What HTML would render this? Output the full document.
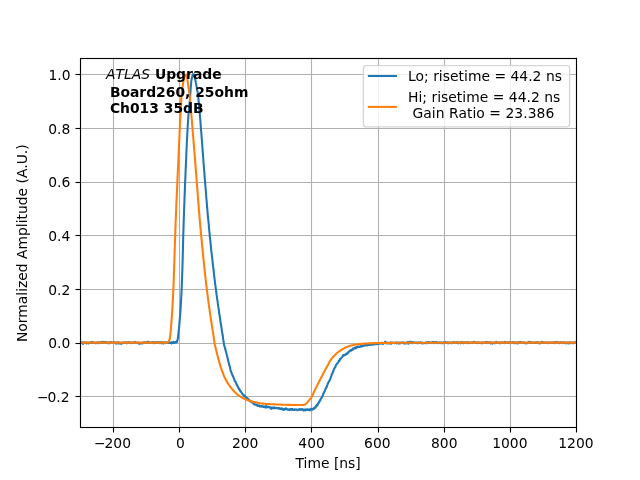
<!DOCTYPE html>
<html lang="en"><head><meta charset="utf-8"><title>Pulse shape</title>
<style>html,body{margin:0;padding:0;background:#fff;overflow:hidden}svg{display:block}text{font-family:'DejaVu Sans','Liberation Sans',sans-serif;font-size:13.889px;fill:#000}</style></head><body>
<svg width="640" height="480" viewBox="0 0 640 480">
<defs><clipPath id="ax"><rect x="80" y="57.6" width="496" height="369.6"/></clipPath></defs>
<rect width="640" height="480" fill="#fff"/>
<g stroke="#b0b0b0" stroke-width="1.111" fill="none">
<path d="M113.5 427.2 V57.6"/>
<path d="M179.5 427.2 V57.6"/>
<path d="M245.5 427.2 V57.6"/>
<path d="M311.5 427.2 V57.6"/>
<path d="M378.5 427.2 V57.6"/>
<path d="M444.5 427.2 V57.6"/>
<path d="M510.5 427.2 V57.6"/>
<path d="M576.5 427.2 V57.6"/>
<path d="M80.0 396.5 H576.0"/>
<path d="M80.0 343.5 H576.0"/>
<path d="M80.0 289.5 H576.0"/>
<path d="M80.0 235.5 H576.0"/>
<path d="M80.0 182.5 H576.0"/>
<path d="M80.0 128.5 H576.0"/>
<path d="M80.0 74.5 H576.0"/>
</g>
<g stroke="#000" stroke-width="1.111" fill="none">
<path d="M113.5 427.5 V432.5"/>
<path d="M179.5 427.5 V432.5"/>
<path d="M245.5 427.5 V432.5"/>
<path d="M311.5 427.5 V432.5"/>
<path d="M378.5 427.5 V432.5"/>
<path d="M444.5 427.5 V432.5"/>
<path d="M510.5 427.5 V432.5"/>
<path d="M576.5 427.5 V432.5"/>
<path d="M80.5 396.5 H75.5"/>
<path d="M80.5 343.5 H75.5"/>
<path d="M80.5 289.5 H75.5"/>
<path d="M80.5 235.5 H75.5"/>
<path d="M80.5 182.5 H75.5"/>
<path d="M80.5 128.5 H75.5"/>
<path d="M80.5 74.5 H75.5"/>
</g>
<text y="448"><tspan x="94.0">−</tspan><tspan x="104.55">200</tspan></text>
<g text-anchor="middle">
<text x="180.40" y="448">0</text>
<text x="245.22" y="448">200</text>
<text x="311.58" y="448">400</text>
<text x="377.34" y="448">600</text>
<text x="444.29" y="448">800</text>
<text x="509.87" y="448">1000</text>
<text x="575.96" y="448">1200</text>
</g>
<text y="402"><tspan x="37.1">−</tspan><tspan x="47.48">0.2</tspan></text>
<g text-anchor="end">
<text x="70.38" y="348">0.0</text>
<text x="70.28" y="295">0.2</text>
<text x="70.33" y="241">0.4</text>
<text x="70.28" y="187">0.6</text>
<text x="70.38" y="134">0.8</text>
<text x="70.48" y="80">1.0</text>
</g>
<text x="328.16" y="468" text-anchor="middle">Time [ns]</text>
<text transform="translate(27.13 243.21) rotate(-90)" text-anchor="middle">Normalized Amplitude (A.U.)</text>
<g clip-path="url(#ax)" fill="none" stroke-width="2.083" stroke-linejoin="round" stroke-linecap="square">
<path stroke="#1f77b4" d="M80.00 343.26 L80.33 341.89 L80.66 342.94 L80.99 342.63 L81.32 342.62 L81.65 342.81 L81.98 342.08 L82.31 342.71 L82.65 342.61 L82.98 343.99 L83.31 343.03 L83.64 342.77 L83.97 342.72 L84.30 342.59 L84.63 342.39 L84.96 342.63 L85.29 342.93 L85.62 342.63 L85.95 343.09 L86.28 342.66 L86.61 342.79 L86.94 343.36 L87.27 342.98 L87.61 342.53 L87.94 342.75 L88.27 343.06 L88.60 343.49 L88.93 342.71 L89.26 342.66 L89.59 342.96 L89.92 342.30 L90.25 342.47 L90.58 343.00 L90.91 342.77 L91.24 342.55 L91.57 342.85 L91.90 341.78 L92.23 343.09 L92.57 342.57 L92.90 342.26 L93.23 342.96 L93.56 343.07 L93.89 342.80 L94.22 342.55 L94.55 342.83 L94.88 342.70 L95.21 343.13 L95.54 342.85 L95.87 342.80 L96.20 343.14 L96.53 342.71 L96.86 342.44 L97.19 342.93 L97.53 342.97 L97.86 342.78 L98.19 342.76 L98.52 343.17 L98.85 342.16 L99.18 343.18 L99.51 343.05 L99.84 342.24 L100.17 342.80 L100.50 342.45 L100.83 343.02 L101.16 341.97 L101.49 342.31 L101.82 342.80 L102.15 342.96 L102.49 341.86 L102.82 342.36 L103.15 342.68 L103.48 342.32 L103.81 342.94 L104.14 342.03 L104.47 342.44 L104.80 342.04 L105.13 342.83 L105.46 342.43 L105.79 342.34 L106.12 341.90 L106.45 343.05 L106.78 342.84 L107.11 342.93 L107.45 343.12 L107.78 342.83 L108.11 342.43 L108.44 342.36 L108.77 342.51 L109.10 343.31 L109.43 342.20 L109.76 342.37 L110.09 342.38 L110.42 342.49 L110.75 342.66 L111.08 342.16 L111.41 341.98 L111.74 342.46 L112.07 342.68 L112.41 342.62 L112.74 342.43 L113.07 342.33 L113.40 342.49 L113.73 342.29 L114.06 342.69 L114.39 342.18 L114.72 342.54 L115.05 342.51 L115.38 342.80 L115.71 342.80 L116.04 343.64 L116.37 343.43 L116.70 343.52 L117.03 342.31 L117.37 342.88 L117.70 342.84 L118.03 343.28 L118.36 342.41 L118.69 343.54 L119.02 343.50 L119.35 342.81 L119.68 342.79 L120.01 342.95 L120.34 343.25 L120.67 343.39 L121.00 343.81 L121.33 343.03 L121.66 343.25 L121.99 342.88 L122.33 343.24 L122.66 342.96 L122.99 343.12 L123.32 342.33 L123.65 342.62 L123.98 342.38 L124.31 343.01 L124.64 342.82 L124.97 342.55 L125.30 342.56 L125.63 342.94 L125.96 342.48 L126.29 342.36 L126.62 342.67 L126.95 343.39 L127.29 342.59 L127.62 342.42 L127.95 342.24 L128.28 342.10 L128.61 342.60 L128.94 342.83 L129.27 342.61 L129.60 342.90 L129.93 342.84 L130.26 342.89 L130.59 342.39 L130.92 342.85 L131.25 343.09 L131.58 342.87 L131.91 342.85 L132.25 342.67 L132.58 342.64 L132.91 342.88 L133.24 342.52 L133.57 342.67 L133.90 342.84 L134.23 342.78 L134.56 343.12 L134.89 341.83 L135.22 342.92 L135.55 342.56 L135.88 342.83 L136.21 342.82 L136.54 342.90 L136.87 342.91 L137.21 342.71 L137.54 343.10 L137.87 342.55 L138.20 342.50 L138.53 342.88 L138.86 342.60 L139.19 343.78 L139.52 343.39 L139.85 343.75 L140.18 342.98 L140.51 342.99 L140.84 343.19 L141.17 343.40 L141.50 342.98 L141.83 343.13 L142.17 342.89 L142.50 343.44 L142.83 342.65 L143.16 343.17 L143.49 342.58 L143.82 342.37 L144.15 342.41 L144.48 342.13 L144.81 342.59 L145.14 342.79 L145.47 342.36 L145.80 342.54 L146.13 342.85 L146.46 342.34 L146.79 342.26 L147.13 342.20 L147.46 341.84 L147.79 342.59 L148.12 341.81 L148.45 342.67 L148.78 342.42 L149.11 342.79 L149.44 342.38 L149.77 342.30 L150.10 342.55 L150.43 342.29 L150.76 342.50 L151.09 342.60 L151.42 342.59 L151.75 342.63 L152.09 342.38 L152.42 342.63 L152.75 341.97 L153.08 342.66 L153.41 342.31 L153.74 343.18 L154.07 343.25 L154.40 342.15 L154.73 342.82 L155.06 342.88 L155.39 342.55 L155.72 343.02 L156.05 342.63 L156.38 342.21 L156.71 342.62 L157.05 342.55 L157.38 342.57 L157.71 342.18 L158.04 342.77 L158.37 342.74 L158.70 342.14 L159.03 342.42 L159.36 342.55 L159.69 342.32 L160.02 343.14 L160.35 342.60 L160.68 342.17 L161.01 342.20 L161.34 342.43 L161.67 343.24 L162.01 342.44 L162.34 342.58 L162.67 342.79 L163.00 342.61 L163.33 343.52 L163.66 342.55 L163.99 343.06 L164.32 342.92 L164.65 343.02 L164.98 342.32 L165.31 343.25 L165.64 342.55 L165.97 342.59 L166.30 342.18 L166.63 342.33 L166.97 342.70 L167.30 342.84 L167.63 342.88 L167.96 343.02 L168.29 342.82 L168.62 342.56 L168.95 342.90 L169.28 342.75 L169.61 342.40 L169.94 342.70 L170.27 343.00 L170.60 342.66 L170.93 342.44 L171.26 342.85 L171.59 343.35 L171.93 342.63 L172.26 342.66 L172.59 342.71 L172.92 342.99 L173.25 341.81 L173.58 342.58 L173.91 342.98 L174.24 342.23 L174.57 342.86 L174.90 342.56 L175.23 342.23 L175.56 342.47 L175.89 341.87 L176.22 342.08 L176.55 342.50 L176.89 341.08 L177.22 341.31 L177.55 339.82 L177.88 338.56 L178.21 335.98 L178.54 332.24 L178.87 329.49 L179.20 326.36 L179.53 322.18 L179.86 318.28 L180.19 314.69 L180.52 309.72 L180.85 304.08 L181.18 298.49 L181.51 292.31 L181.85 284.17 L182.18 275.41 L182.51 264.84 L182.84 252.12 L183.17 239.23 L183.50 227.66 L183.83 217.82 L184.16 208.55 L184.49 199.31 L184.82 190.77 L185.15 182.16 L185.48 174.48 L185.81 166.51 L186.14 158.84 L186.47 150.76 L186.81 143.45 L187.14 136.92 L187.47 130.27 L187.80 124.46 L188.13 119.75 L188.46 114.66 L188.79 111.75 L189.12 107.84 L189.45 104.19 L189.78 101.35 L190.11 97.41 L190.44 91.83 L190.77 87.56 L191.10 83.28 L191.43 79.77 L191.77 78.86 L192.10 76.76 L192.43 76.46 L192.76 74.86 L193.09 74.10 L193.42 74.95 L193.75 74.39 L194.08 75.54 L194.41 76.74 L194.74 77.46 L195.07 78.81 L195.40 80.33 L195.73 82.21 L196.06 83.32 L196.39 85.44 L196.73 87.16 L197.06 89.67 L197.39 90.87 L197.72 92.82 L198.05 95.89 L198.38 98.49 L198.71 101.93 L199.04 105.41 L199.37 109.64 L199.70 113.03 L200.03 117.27 L200.36 120.43 L200.69 125.17 L201.02 130.11 L201.35 133.50 L201.69 137.70 L202.02 141.96 L202.35 146.94 L202.68 151.36 L203.01 155.09 L203.34 160.01 L203.67 164.09 L204.00 168.50 L204.33 172.21 L204.66 177.11 L204.99 180.87 L205.32 184.90 L205.65 188.78 L205.98 193.02 L206.31 197.56 L206.65 201.14 L206.98 205.52 L207.31 209.24 L207.64 213.49 L207.97 216.92 L208.30 220.22 L208.63 223.19 L208.96 227.43 L209.29 230.96 L209.62 234.11 L209.95 237.57 L210.28 240.43 L210.61 243.59 L210.94 246.68 L211.27 250.58 L211.61 253.12 L211.94 255.84 L212.27 258.55 L212.60 261.83 L212.93 265.13 L213.26 267.68 L213.59 270.06 L213.92 273.54 L214.25 276.25 L214.58 279.01 L214.91 281.66 L215.24 284.37 L215.57 286.82 L215.90 289.52 L216.23 291.59 L216.57 294.82 L216.90 296.67 L217.23 299.76 L217.56 300.62 L217.89 303.91 L218.22 306.39 L218.55 308.22 L218.88 310.72 L219.21 312.98 L219.54 315.20 L219.87 317.17 L220.20 319.43 L220.53 322.11 L220.86 324.32 L221.19 326.01 L221.53 328.09 L221.86 330.31 L222.19 332.79 L222.52 334.22 L222.85 336.32 L223.18 339.20 L223.51 341.02 L223.84 343.20 L224.17 345.00 L224.50 346.53 L224.83 347.31 L225.16 349.00 L225.49 349.41 L225.82 351.41 L226.15 352.10 L226.49 353.44 L226.82 355.36 L227.15 356.30 L227.48 357.48 L227.81 358.87 L228.14 360.65 L228.47 361.67 L228.80 362.98 L229.13 364.75 L229.46 365.48 L229.79 366.80 L230.12 368.12 L230.45 369.75 L230.78 370.90 L231.11 372.00 L231.45 372.55 L231.78 373.51 L232.11 374.44 L232.44 374.73 L232.77 375.95 L233.10 376.69 L233.43 377.12 L233.76 378.01 L234.09 378.69 L234.42 380.07 L234.75 381.10 L235.08 381.08 L235.41 381.94 L235.74 381.89 L236.07 383.37 L236.41 384.00 L236.74 384.26 L237.07 385.69 L237.40 385.59 L237.73 386.64 L238.06 387.30 L238.39 387.34 L238.72 388.72 L239.05 389.36 L239.38 389.07 L239.71 389.66 L240.04 390.70 L240.37 391.02 L240.70 391.03 L241.03 391.82 L241.37 392.40 L241.70 392.61 L242.03 393.40 L242.36 393.66 L242.69 394.39 L243.02 394.67 L243.35 394.78 L243.68 395.39 L244.01 395.70 L244.34 395.85 L244.67 395.59 L245.00 396.57 L245.33 396.60 L245.66 397.49 L245.99 397.31 L246.33 397.67 L246.66 397.69 L246.99 398.49 L247.32 398.23 L247.65 398.39 L247.98 398.87 L248.31 398.92 L248.64 399.47 L248.97 399.66 L249.30 400.09 L249.63 401.07 L249.96 400.61 L250.29 401.05 L250.62 401.24 L250.95 401.71 L251.29 401.34 L251.62 401.70 L251.95 402.21 L252.28 402.62 L252.61 402.66 L252.94 402.81 L253.27 403.03 L253.60 403.68 L253.93 404.28 L254.26 404.16 L254.59 404.32 L254.92 404.56 L255.25 404.31 L255.58 404.67 L255.91 404.73 L256.25 404.93 L256.58 404.97 L256.91 404.68 L257.24 405.62 L257.57 405.92 L257.90 405.39 L258.23 405.78 L258.56 405.75 L258.89 406.01 L259.22 405.42 L259.55 406.53 L259.88 405.86 L260.21 406.51 L260.54 406.19 L260.87 406.02 L261.21 406.21 L261.54 406.61 L261.87 406.12 L262.20 406.28 L262.53 406.31 L262.86 406.06 L263.19 407.01 L263.52 406.82 L263.85 406.73 L264.18 407.01 L264.51 406.50 L264.84 406.85 L265.17 407.52 L265.50 407.28 L265.83 406.21 L266.17 405.95 L266.50 406.73 L266.83 407.54 L267.16 406.99 L267.49 406.93 L267.82 407.22 L268.15 406.68 L268.48 407.11 L268.81 407.32 L269.14 407.28 L269.47 407.34 L269.80 407.05 L270.13 407.65 L270.46 407.56 L270.79 408.21 L271.13 408.83 L271.46 407.80 L271.79 407.37 L272.12 407.87 L272.45 408.08 L272.78 408.28 L273.11 408.14 L273.44 407.49 L273.77 407.44 L274.10 408.14 L274.43 407.37 L274.76 408.11 L275.09 407.78 L275.42 408.08 L275.75 408.08 L276.09 408.29 L276.42 408.22 L276.75 407.75 L277.08 408.15 L277.41 408.09 L277.74 408.18 L278.07 408.55 L278.40 408.25 L278.73 408.12 L279.06 408.06 L279.39 408.38 L279.72 408.79 L280.05 408.33 L280.38 409.07 L280.71 408.86 L281.05 408.70 L281.38 408.35 L281.71 408.91 L282.04 409.31 L282.37 408.51 L282.70 409.42 L283.03 409.63 L283.36 409.11 L283.69 409.24 L284.02 409.94 L284.35 409.54 L284.68 408.84 L285.01 408.94 L285.34 408.91 L285.67 408.93 L286.01 408.28 L286.34 409.44 L286.67 408.97 L287.00 409.14 L287.33 409.20 L287.66 409.65 L287.99 409.37 L288.32 409.23 L288.65 409.74 L288.98 409.92 L289.31 409.44 L289.64 410.04 L289.97 409.68 L290.30 409.28 L290.63 409.76 L290.97 409.01 L291.30 409.66 L291.63 409.26 L291.96 409.74 L292.29 409.04 L292.62 409.20 L292.95 409.98 L293.28 409.78 L293.61 409.86 L293.94 409.72 L294.27 410.01 L294.60 409.39 L294.93 409.37 L295.26 409.73 L295.59 409.46 L295.93 409.44 L296.26 409.56 L296.59 409.56 L296.92 409.52 L297.25 410.15 L297.58 409.94 L297.91 410.08 L298.24 409.72 L298.57 409.53 L298.90 409.28 L299.23 409.76 L299.56 409.13 L299.89 409.54 L300.22 409.91 L300.55 410.06 L300.89 409.77 L301.22 409.08 L301.55 409.62 L301.88 409.10 L302.21 409.56 L302.54 409.30 L302.87 409.63 L303.20 410.32 L303.53 409.84 L303.86 410.35 L304.19 409.68 L304.52 409.53 L304.85 410.19 L305.18 410.32 L305.51 409.50 L305.85 409.81 L306.18 409.29 L306.51 409.71 L306.84 410.06 L307.17 409.76 L307.50 409.58 L307.83 409.21 L308.16 409.81 L308.49 410.07 L308.82 409.92 L309.15 409.72 L309.48 409.31 L309.81 410.33 L310.14 409.71 L310.47 409.64 L310.81 409.84 L311.14 408.81 L311.47 409.47 L311.80 409.54 L312.13 409.59 L312.46 409.68 L312.79 409.35 L313.12 408.46 L313.45 408.77 L313.78 408.92 L314.11 408.71 L314.44 407.94 L314.77 407.46 L315.10 408.01 L315.43 407.55 L315.77 407.02 L316.10 405.91 L316.43 406.58 L316.76 404.72 L317.09 405.09 L317.42 405.48 L317.75 404.16 L318.08 403.73 L318.41 402.77 L318.74 402.97 L319.07 401.68 L319.40 401.76 L319.73 401.02 L320.06 400.16 L320.39 400.13 L320.73 398.89 L321.06 398.56 L321.39 398.26 L321.72 397.48 L322.05 397.06 L322.38 396.52 L322.71 395.41 L323.04 394.53 L323.37 393.80 L323.70 393.03 L324.03 392.68 L324.36 391.57 L324.69 391.06 L325.02 390.19 L325.35 389.20 L325.69 388.98 L326.02 387.71 L326.35 387.41 L326.68 387.21 L327.01 385.50 L327.34 385.03 L327.67 383.82 L328.00 383.49 L328.33 382.41 L328.66 382.19 L328.99 381.39 L329.32 380.88 L329.65 380.51 L329.98 379.50 L330.31 378.85 L330.65 377.80 L330.98 376.78 L331.31 375.68 L331.64 374.42 L331.97 374.12 L332.30 373.83 L332.63 372.74 L332.96 371.67 L333.29 371.55 L333.62 370.07 L333.95 369.39 L334.28 368.50 L334.61 367.85 L334.94 367.32 L335.27 367.45 L335.61 366.02 L335.94 365.08 L336.27 364.77 L336.60 364.44 L336.93 363.47 L337.26 363.57 L337.59 363.27 L337.92 362.77 L338.25 362.24 L338.58 361.32 L338.91 360.68 L339.24 361.20 L339.57 360.56 L339.90 359.16 L340.23 359.29 L340.57 358.84 L340.90 358.55 L341.23 358.20 L341.56 357.51 L341.89 357.26 L342.22 356.94 L342.55 356.59 L342.88 355.63 L343.21 355.12 L343.54 355.55 L343.87 354.97 L344.20 355.22 L344.53 355.16 L344.86 354.88 L345.19 354.45 L345.53 354.43 L345.86 354.57 L346.19 353.59 L346.52 353.95 L346.85 353.72 L347.18 353.37 L347.51 353.58 L347.84 352.67 L348.17 352.84 L348.50 351.88 L348.83 351.70 L349.16 351.33 L349.49 351.49 L349.82 350.86 L350.15 350.90 L350.49 350.14 L350.82 350.61 L351.15 350.59 L351.48 349.82 L351.81 350.14 L352.14 349.52 L352.47 349.85 L352.80 348.96 L353.13 348.31 L353.46 349.21 L353.79 348.51 L354.12 348.14 L354.45 348.18 L354.78 347.66 L355.11 348.22 L355.45 347.86 L355.78 348.48 L356.11 348.05 L356.44 347.16 L356.77 346.99 L357.10 347.18 L357.43 346.68 L357.76 347.09 L358.09 346.82 L358.42 346.50 L358.75 346.57 L359.08 346.75 L359.41 347.04 L359.74 347.03 L360.07 346.60 L360.41 346.73 L360.74 346.19 L361.07 346.57 L361.40 346.02 L361.73 346.38 L362.06 345.84 L362.39 345.76 L362.72 346.10 L363.05 346.10 L363.38 345.24 L363.71 345.43 L364.04 345.54 L364.37 345.52 L364.70 345.25 L365.03 345.38 L365.37 345.21 L365.70 345.57 L366.03 345.25 L366.36 344.70 L366.69 344.29 L367.02 345.07 L367.35 345.40 L367.68 345.04 L368.01 345.17 L368.34 344.68 L368.67 344.41 L369.00 344.99 L369.33 344.66 L369.66 344.87 L369.99 344.10 L370.33 344.52 L370.66 344.16 L370.99 344.61 L371.32 344.03 L371.65 344.00 L371.98 344.06 L372.31 344.71 L372.64 344.39 L372.97 344.02 L373.30 343.92 L373.63 343.74 L373.96 344.56 L374.29 343.56 L374.62 343.81 L374.95 344.25 L375.29 344.28 L375.62 343.70 L375.95 344.01 L376.28 343.86 L376.61 343.91 L376.94 343.69 L377.27 344.17 L377.60 343.62 L377.93 343.96 L378.26 343.21 L378.59 343.73 L378.92 342.95 L379.25 342.93 L379.58 343.58 L379.91 342.99 L380.25 343.31 L380.58 342.82 L380.91 343.73 L381.24 343.09 L381.57 342.85 L381.90 343.28 L382.23 343.51 L382.56 342.96 L382.89 343.30 L383.22 343.83 L383.55 343.41 L383.88 343.01 L384.21 342.71 L384.54 342.99 L384.87 342.30 L385.21 341.68 L385.54 342.45 L385.87 342.49 L386.20 343.50 L386.53 342.96 L386.86 342.63 L387.19 342.75 L387.52 343.32 L387.85 342.93 L388.18 343.07 L388.51 343.33 L388.84 343.18 L389.17 343.16 L389.50 343.07 L389.83 343.48 L390.17 343.59 L390.50 342.56 L390.83 343.77 L391.16 342.96 L391.49 343.27 L391.82 342.65 L392.15 342.90 L392.48 342.95 L392.81 342.89 L393.14 343.12 L393.47 343.03 L393.80 342.65 L394.13 342.94 L394.46 343.11 L394.79 343.11 L395.13 342.93 L395.46 342.90 L395.79 342.98 L396.12 342.57 L396.45 342.43 L396.78 343.32 L397.11 342.68 L397.44 342.96 L397.77 342.69 L398.10 343.30 L398.43 343.42 L398.76 342.79 L399.09 343.10 L399.42 342.72 L399.75 343.53 L400.09 343.15 L400.42 342.59 L400.75 343.21 L401.08 342.78 L401.41 342.88 L401.74 342.78 L402.07 342.42 L402.40 342.55 L402.73 342.93 L403.06 342.76 L403.39 342.52 L403.72 343.47 L404.05 342.83 L404.38 342.78 L404.71 342.85 L405.05 343.44 L405.38 343.41 L405.71 343.21 L406.04 343.40 L406.37 342.46 L406.70 342.87 L407.03 342.73 L407.36 342.84 L407.69 342.96 L408.02 341.93 L408.35 343.72 L408.68 342.33 L409.01 342.68 L409.34 342.71 L409.67 342.82 L410.01 342.74 L410.34 341.66 L410.67 342.20 L411.00 342.79 L411.33 342.22 L411.66 342.20 L411.99 341.86 L412.32 343.20 L412.65 342.82 L412.98 342.23 L413.31 342.52 L413.64 342.45 L413.97 342.20 L414.30 342.50 L414.63 342.61 L414.97 342.71 L415.30 342.94 L415.63 342.64 L415.96 342.53 L416.29 342.79 L416.62 342.57 L416.95 342.45 L417.28 343.24 L417.61 342.83 L417.94 342.89 L418.27 343.08 L418.60 342.43 L418.93 343.04 L419.26 342.99 L419.59 342.84 L419.93 342.94 L420.26 342.53 L420.59 342.02 L420.92 342.80 L421.25 342.52 L421.58 343.15 L421.91 343.04 L422.24 342.75 L422.57 342.93 L422.90 343.38 L423.23 343.41 L423.56 343.22 L423.89 343.07 L424.22 342.88 L424.55 342.95 L424.89 343.15 L425.22 342.95 L425.55 343.15 L425.88 342.69 L426.21 342.32 L426.54 342.21 L426.87 342.60 L427.20 343.28 L427.53 343.21 L427.86 342.43 L428.19 342.13 L428.52 342.77 L428.85 342.62 L429.18 342.05 L429.51 342.86 L429.85 342.65 L430.18 343.04 L430.51 342.68 L430.84 342.79 L431.17 342.65 L431.50 342.23 L431.83 342.44 L432.16 342.30 L432.49 342.75 L432.82 342.17 L433.15 341.89 L433.48 342.57 L433.81 342.92 L434.14 343.14 L434.47 342.94 L434.81 342.06 L435.14 342.40 L435.47 342.59 L435.80 342.87 L436.13 342.04 L436.46 342.76 L436.79 342.71 L437.12 342.24 L437.45 342.64 L437.78 343.04 L438.11 342.63 L438.44 342.92 L438.77 342.73 L439.10 342.65 L439.43 342.71 L439.77 342.47 L440.10 343.05 L440.43 342.53 L440.76 342.51 L441.09 342.92 L441.42 342.50 L441.75 343.05 L442.08 343.20 L442.41 342.90 L442.74 342.95 L443.07 343.09 L443.40 343.10 L443.73 342.29 L444.06 342.35 L444.39 343.13 L444.73 342.78 L445.06 342.01 L445.39 342.19 L445.72 342.72 L446.05 342.39 L446.38 342.84 L446.71 342.75 L447.04 342.98 L447.37 342.32 L447.70 342.84 L448.03 343.29 L448.36 342.41 L448.69 343.05 L449.02 343.03 L449.35 342.91 L449.69 342.62 L450.02 342.28 L450.35 342.55 L450.68 343.00 L451.01 343.21 L451.34 343.27 L451.67 343.19 L452.00 343.05 L452.33 342.57 L452.66 342.23 L452.99 342.70 L453.32 342.78 L453.65 342.75 L453.98 342.09 L454.31 342.47 L454.65 342.06 L454.98 342.65 L455.31 342.25 L455.64 342.66 L455.97 342.76 L456.30 342.57 L456.63 343.00 L456.96 342.22 L457.29 341.92 L457.62 342.98 L457.95 343.18 L458.28 343.36 L458.61 342.91 L458.94 342.97 L459.27 342.94 L459.61 342.42 L459.94 342.63 L460.27 342.87 L460.60 342.51 L460.93 343.35 L461.26 342.07 L461.59 342.40 L461.92 342.91 L462.25 342.31 L462.58 342.18 L462.91 342.16 L463.24 342.50 L463.57 343.21 L463.90 342.78 L464.23 342.73 L464.57 342.46 L464.90 342.95 L465.23 342.68 L465.56 342.27 L465.89 342.31 L466.22 342.34 L466.55 342.76 L466.88 342.48 L467.21 342.70 L467.54 343.28 L467.87 342.32 L468.20 342.13 L468.53 342.94 L468.86 342.86 L469.19 342.79 L469.53 342.86 L469.86 342.65 L470.19 342.98 L470.52 342.64 L470.85 343.05 L471.18 342.43 L471.51 342.41 L471.84 342.57 L472.17 342.33 L472.50 342.75 L472.83 342.31 L473.16 342.12 L473.49 342.42 L473.82 342.03 L474.15 341.77 L474.49 342.03 L474.82 342.29 L475.15 342.33 L475.48 342.52 L475.81 342.81 L476.14 342.81 L476.47 343.08 L476.80 343.03 L477.13 342.48 L477.46 343.07 L477.79 342.78 L478.12 342.34 L478.45 342.61 L478.78 342.95 L479.11 342.68 L479.45 343.01 L479.78 342.83 L480.11 343.01 L480.44 342.77 L480.77 343.05 L481.10 342.77 L481.43 343.07 L481.76 342.32 L482.09 342.91 L482.42 343.24 L482.75 342.99 L483.08 342.74 L483.41 342.81 L483.74 342.42 L484.07 342.31 L484.41 342.56 L484.74 342.56 L485.07 342.89 L485.40 342.25 L485.73 342.84 L486.06 341.94 L486.39 342.19 L486.72 342.49 L487.05 343.08 L487.38 342.49 L487.71 341.98 L488.04 342.84 L488.37 342.74 L488.70 342.49 L489.03 342.59 L489.37 342.67 L489.70 342.74 L490.03 342.95 L490.36 342.08 L490.69 343.38 L491.02 342.68 L491.35 342.70 L491.68 342.97 L492.01 342.78 L492.34 343.60 L492.67 343.33 L493.00 342.84 L493.33 342.97 L493.66 342.86 L493.99 342.74 L494.33 342.91 L494.66 342.42 L494.99 343.26 L495.32 342.59 L495.65 342.56 L495.98 342.80 L496.31 341.74 L496.64 342.23 L496.97 342.87 L497.30 342.65 L497.63 342.72 L497.96 342.73 L498.29 342.45 L498.62 342.55 L498.95 342.31 L499.29 342.21 L499.62 343.19 L499.95 342.52 L500.28 342.59 L500.61 343.24 L500.94 343.08 L501.27 342.60 L501.60 342.65 L501.93 342.66 L502.26 342.42 L502.59 342.78 L502.92 342.60 L503.25 342.53 L503.58 342.68 L503.91 342.75 L504.25 343.17 L504.58 342.98 L504.91 341.88 L505.24 342.60 L505.57 342.15 L505.90 342.06 L506.23 342.87 L506.56 342.59 L506.89 342.74 L507.22 343.00 L507.55 342.47 L507.88 342.38 L508.21 342.97 L508.54 343.07 L508.87 342.82 L509.21 342.08 L509.54 342.23 L509.87 342.39 L510.20 343.19 L510.53 342.84 L510.86 342.82 L511.19 342.78 L511.52 342.30 L511.85 342.49 L512.18 342.53 L512.51 342.06 L512.84 342.41 L513.17 342.59 L513.50 342.20 L513.83 342.85 L514.17 342.82 L514.50 343.03 L514.83 342.44 L515.16 342.74 L515.49 343.25 L515.82 342.99 L516.15 342.47 L516.48 342.74 L516.81 343.20 L517.14 342.73 L517.47 342.75 L517.80 343.49 L518.13 342.53 L518.46 342.40 L518.79 342.04 L519.13 342.19 L519.46 342.89 L519.79 342.29 L520.12 341.95 L520.45 342.04 L520.78 342.29 L521.11 342.61 L521.44 342.20 L521.77 342.77 L522.10 342.39 L522.43 342.61 L522.76 342.54 L523.09 342.65 L523.42 342.45 L523.75 342.67 L524.09 342.97 L524.42 342.41 L524.75 343.02 L525.08 343.12 L525.41 343.40 L525.74 343.25 L526.07 343.19 L526.40 343.21 L526.73 342.85 L527.06 342.90 L527.39 343.08 L527.72 342.86 L528.05 342.33 L528.38 342.43 L528.71 341.73 L529.05 342.74 L529.38 342.30 L529.71 342.58 L530.04 342.13 L530.37 342.37 L530.70 342.62 L531.03 342.86 L531.36 342.14 L531.69 343.05 L532.02 342.74 L532.35 342.60 L532.68 343.03 L533.01 342.86 L533.34 342.90 L533.67 342.83 L534.01 343.08 L534.34 343.00 L534.67 342.70 L535.00 342.25 L535.33 342.38 L535.66 342.68 L535.99 342.97 L536.32 342.54 L536.65 342.85 L536.98 342.42 L537.31 342.05 L537.64 342.80 L537.97 342.43 L538.30 342.88 L538.63 343.05 L538.97 342.52 L539.30 342.63 L539.63 343.50 L539.96 342.69 L540.29 342.80 L540.62 342.90 L540.95 342.51 L541.28 342.43 L541.61 342.57 L541.94 341.76 L542.27 342.95 L542.60 342.15 L542.93 342.29 L543.26 342.85 L543.59 342.72 L543.93 342.31 L544.26 342.82 L544.59 342.48 L544.92 342.63 L545.25 342.39 L545.58 342.64 L545.91 343.00 L546.24 342.71 L546.57 342.67 L546.90 342.93 L547.23 342.72 L547.56 342.50 L547.89 342.56 L548.22 343.18 L548.55 342.64 L548.89 342.76 L549.22 342.63 L549.55 342.84 L549.88 342.81 L550.21 342.62 L550.54 342.56 L550.87 342.41 L551.20 342.49 L551.53 342.92 L551.86 342.95 L552.19 343.04 L552.52 342.78 L552.85 342.56 L553.18 342.91 L553.51 342.75 L553.85 342.06 L554.18 342.89 L554.51 342.83 L554.84 343.23 L555.17 342.39 L555.50 342.11 L555.83 342.71 L556.16 342.01 L556.49 342.53 L556.82 342.23 L557.15 342.20 L557.48 341.89 L557.81 342.51 L558.14 342.88 L558.47 342.86 L558.81 342.86 L559.14 342.55 L559.47 343.15 L559.80 342.92 L560.13 343.04 L560.46 342.12 L560.79 342.75 L561.12 342.33 L561.45 342.69 L561.78 342.73 L562.11 342.33 L562.44 342.68 L562.77 343.04 L563.10 342.80 L563.43 342.79 L563.77 342.24 L564.10 342.34 L564.43 342.36 L564.76 342.83 L565.09 343.18 L565.42 343.04 L565.75 342.91 L566.08 342.60 L566.41 343.30 L566.74 343.17 L567.07 342.55 L567.40 342.54 L567.73 342.85 L568.06 342.62 L568.39 343.42 L568.73 342.77 L569.06 342.39 L569.39 342.47 L569.72 343.08 L570.05 342.20 L570.38 342.94 L570.71 342.93 L571.04 343.18 L571.37 342.80 L571.70 342.65 L572.03 342.97 L572.36 342.81 L572.69 343.09 L573.02 342.77 L573.35 343.27 L573.69 342.48 L574.02 342.77 L574.35 342.29 L574.68 342.45 L575.01 342.46 L575.34 342.46 L575.67 342.63 L576.00 342.28"/>
<path stroke="#ff7f0e" d="M80.00 342.65 L80.33 342.65 L80.66 342.65 L80.99 342.65 L81.32 342.65 L81.65 342.65 L81.98 342.65 L82.31 342.65 L82.65 342.65 L82.98 342.65 L83.31 342.65 L83.64 342.65 L83.97 342.65 L84.30 342.65 L84.63 342.65 L84.96 342.65 L85.29 342.65 L85.62 342.65 L85.95 342.65 L86.28 342.65 L86.61 342.65 L86.94 342.65 L87.27 342.65 L87.61 342.65 L87.94 342.65 L88.27 342.65 L88.60 342.65 L88.93 342.65 L89.26 342.65 L89.59 342.65 L89.92 342.65 L90.25 342.65 L90.58 342.65 L90.91 342.65 L91.24 342.65 L91.57 342.65 L91.90 342.65 L92.23 342.65 L92.57 342.65 L92.90 342.65 L93.23 342.65 L93.56 342.65 L93.89 342.65 L94.22 342.65 L94.55 342.65 L94.88 342.65 L95.21 342.65 L95.54 342.65 L95.87 342.65 L96.20 342.65 L96.53 342.65 L96.86 342.65 L97.19 342.65 L97.53 342.65 L97.86 342.65 L98.19 342.65 L98.52 342.65 L98.85 342.65 L99.18 342.65 L99.51 342.65 L99.84 342.65 L100.17 342.65 L100.50 342.65 L100.83 342.65 L101.16 342.65 L101.49 342.65 L101.82 342.65 L102.15 342.65 L102.49 342.65 L102.82 342.65 L103.15 342.65 L103.48 342.65 L103.81 342.65 L104.14 342.65 L104.47 342.65 L104.80 342.65 L105.13 342.65 L105.46 342.65 L105.79 342.65 L106.12 342.65 L106.45 342.65 L106.78 342.65 L107.11 342.65 L107.45 342.65 L107.78 342.65 L108.11 342.65 L108.44 342.65 L108.77 342.65 L109.10 342.65 L109.43 342.65 L109.76 342.65 L110.09 342.65 L110.42 342.65 L110.75 342.65 L111.08 342.65 L111.41 342.65 L111.74 342.65 L112.07 342.65 L112.41 342.65 L112.74 342.65 L113.07 342.65 L113.40 342.65 L113.73 342.65 L114.06 342.65 L114.39 342.65 L114.72 342.65 L115.05 342.65 L115.38 342.65 L115.71 342.65 L116.04 342.65 L116.37 342.65 L116.70 342.65 L117.03 342.65 L117.37 342.65 L117.70 342.65 L118.03 342.65 L118.36 342.65 L118.69 342.65 L119.02 342.65 L119.35 342.65 L119.68 342.65 L120.01 342.65 L120.34 342.65 L120.67 342.65 L121.00 342.65 L121.33 342.65 L121.66 342.65 L121.99 342.65 L122.33 342.65 L122.66 342.65 L122.99 342.65 L123.32 342.65 L123.65 342.65 L123.98 342.65 L124.31 342.65 L124.64 342.65 L124.97 342.65 L125.30 342.65 L125.63 342.65 L125.96 342.65 L126.29 342.65 L126.62 342.65 L126.95 342.65 L127.29 342.65 L127.62 342.65 L127.95 342.65 L128.28 342.65 L128.61 342.65 L128.94 342.65 L129.27 342.65 L129.60 342.65 L129.93 342.65 L130.26 342.65 L130.59 342.65 L130.92 342.65 L131.25 342.65 L131.58 342.65 L131.91 342.65 L132.25 342.65 L132.58 342.65 L132.91 342.65 L133.24 342.65 L133.57 342.65 L133.90 342.65 L134.23 342.65 L134.56 342.65 L134.89 342.65 L135.22 342.65 L135.55 342.65 L135.88 342.65 L136.21 342.65 L136.54 342.65 L136.87 342.65 L137.21 342.65 L137.54 342.65 L137.87 342.65 L138.20 342.65 L138.53 342.65 L138.86 342.65 L139.19 342.65 L139.52 342.65 L139.85 342.65 L140.18 342.65 L140.51 342.65 L140.84 342.65 L141.17 342.65 L141.50 342.65 L141.83 342.65 L142.17 342.65 L142.50 342.65 L142.83 342.65 L143.16 342.65 L143.49 342.65 L143.82 342.65 L144.15 342.65 L144.48 342.65 L144.81 342.65 L145.14 342.65 L145.47 342.65 L145.80 342.65 L146.13 342.65 L146.46 342.65 L146.79 342.65 L147.13 342.65 L147.46 342.65 L147.79 342.65 L148.12 342.65 L148.45 342.65 L148.78 342.65 L149.11 342.65 L149.44 342.65 L149.77 342.65 L150.10 342.65 L150.43 342.65 L150.76 342.65 L151.09 342.65 L151.42 342.65 L151.75 342.65 L152.09 342.65 L152.42 342.65 L152.75 342.65 L153.08 342.65 L153.41 342.65 L153.74 342.65 L154.07 342.65 L154.40 342.65 L154.73 342.65 L155.06 342.65 L155.39 342.65 L155.72 342.65 L156.05 342.65 L156.38 342.65 L156.71 342.65 L157.05 342.65 L157.38 342.65 L157.71 342.65 L158.04 342.65 L158.37 342.65 L158.70 342.65 L159.03 342.65 L159.36 342.65 L159.69 342.65 L160.02 342.65 L160.35 342.65 L160.68 342.65 L161.01 342.65 L161.34 342.65 L161.67 342.65 L162.01 342.65 L162.34 342.65 L162.67 342.65 L163.00 342.65 L163.33 342.65 L163.66 342.65 L163.99 342.65 L164.32 342.65 L164.65 342.65 L164.98 342.65 L165.31 342.65 L165.64 342.65 L165.97 342.65 L166.30 342.65 L166.63 342.65 L166.97 342.61 L167.30 342.55 L167.63 342.46 L167.96 342.28 L168.29 342.01 L168.62 341.55 L168.95 340.91 L169.28 340.22 L169.61 339.17 L169.94 337.68 L170.27 335.32 L170.60 331.70 L170.93 328.00 L171.26 324.11 L171.59 319.89 L171.93 315.22 L172.26 310.20 L172.59 304.56 L172.92 298.24 L173.25 291.23 L173.58 283.37 L173.91 274.48 L174.24 264.75 L174.57 254.39 L174.90 243.86 L175.23 233.71 L175.56 224.32 L175.89 215.76 L176.22 207.75 L176.55 200.09 L176.89 192.66 L177.22 185.36 L177.55 178.10 L177.88 170.82 L178.21 163.45 L178.54 156.01 L178.87 148.58 L179.20 141.23 L179.53 133.99 L179.86 126.93 L180.19 120.08 L180.52 113.45 L180.85 106.57 L181.18 100.54 L181.51 96.00 L181.85 92.74 L182.18 89.99 L182.51 87.45 L182.84 85.03 L183.17 82.87 L183.50 81.01 L183.83 79.37 L184.16 77.93 L184.49 76.81 L184.82 75.95 L185.15 75.29 L185.48 74.81 L185.81 74.60 L186.14 74.86 L186.47 75.44 L186.81 76.35 L187.14 77.95 L187.47 80.29 L187.80 82.44 L188.13 84.78 L188.46 87.17 L188.79 89.54 L189.12 91.93 L189.45 94.44 L189.78 97.23 L190.11 100.44 L190.44 104.00 L190.77 107.85 L191.10 111.81 L191.43 115.68 L191.77 119.57 L192.10 123.50 L192.43 127.48 L192.76 131.50 L193.09 135.55 L193.42 139.64 L193.75 143.75 L194.08 147.87 L194.41 152.01 L194.74 156.16 L195.07 160.30 L195.40 164.44 L195.73 168.57 L196.06 172.74 L196.39 176.99 L196.73 181.28 L197.06 185.61 L197.39 189.95 L197.72 194.28 L198.05 198.58 L198.38 202.83 L198.71 207.01 L199.04 211.11 L199.37 215.13 L199.70 219.04 L200.03 222.84 L200.36 226.57 L200.69 230.24 L201.02 233.86 L201.35 237.42 L201.69 240.93 L202.02 244.39 L202.35 247.80 L202.68 251.16 L203.01 254.47 L203.34 257.75 L203.67 260.97 L204.00 264.16 L204.33 267.31 L204.66 270.41 L204.99 273.48 L205.32 276.51 L205.65 279.48 L205.98 282.32 L206.31 285.06 L206.65 287.74 L206.98 290.40 L207.31 293.02 L207.64 295.60 L207.97 298.15 L208.30 300.66 L208.63 303.13 L208.96 305.56 L209.29 307.96 L209.62 310.32 L209.95 312.64 L210.28 314.92 L210.61 317.17 L210.94 319.40 L211.27 321.60 L211.61 323.74 L211.94 325.82 L212.27 327.86 L212.60 329.90 L212.93 331.96 L213.26 334.09 L213.59 336.36 L213.92 338.89 L214.25 341.33 L214.58 343.40 L214.91 345.06 L215.24 346.47 L215.57 347.79 L215.90 349.06 L216.23 350.34 L216.57 351.67 L216.90 353.01 L217.23 354.33 L217.56 355.64 L217.89 356.93 L218.22 358.19 L218.55 359.44 L218.88 360.67 L219.21 361.89 L219.54 363.08 L219.87 364.24 L220.20 365.35 L220.53 366.43 L220.86 367.46 L221.19 368.46 L221.53 369.43 L221.86 370.37 L222.19 371.29 L222.52 372.18 L222.85 373.06 L223.18 373.92 L223.51 374.76 L223.84 375.56 L224.17 376.34 L224.50 377.08 L224.83 377.78 L225.16 378.45 L225.49 379.10 L225.82 379.74 L226.15 380.35 L226.49 380.95 L226.82 381.53 L227.15 382.10 L227.48 382.65 L227.81 383.18 L228.14 383.70 L228.47 384.21 L228.80 384.71 L229.13 385.19 L229.46 385.66 L229.79 386.12 L230.12 386.57 L230.45 387.01 L230.78 387.43 L231.11 387.85 L231.45 388.26 L231.78 388.67 L232.11 389.06 L232.44 389.45 L232.77 389.83 L233.10 390.20 L233.43 390.56 L233.76 390.92 L234.09 391.27 L234.42 391.62 L234.75 391.95 L235.08 392.29 L235.41 392.61 L235.74 392.93 L236.07 393.25 L236.41 393.55 L236.74 393.85 L237.07 394.15 L237.40 394.44 L237.73 394.71 L238.06 394.98 L238.39 395.24 L238.72 395.50 L239.05 395.74 L239.38 395.97 L239.71 396.19 L240.04 396.41 L240.37 396.61 L240.70 396.82 L241.03 397.01 L241.37 397.21 L241.70 397.40 L242.03 397.58 L242.36 397.76 L242.69 397.94 L243.02 398.11 L243.35 398.28 L243.68 398.45 L244.01 398.61 L244.34 398.76 L244.67 398.92 L245.00 399.07 L245.33 399.21 L245.66 399.35 L245.99 399.49 L246.33 399.63 L246.66 399.76 L246.99 399.88 L247.32 400.01 L247.65 400.13 L247.98 400.24 L248.31 400.36 L248.64 400.47 L248.97 400.58 L249.30 400.68 L249.63 400.79 L249.96 400.89 L250.29 400.99 L250.62 401.09 L250.95 401.18 L251.29 401.27 L251.62 401.37 L251.95 401.46 L252.28 401.54 L252.61 401.63 L252.94 401.71 L253.27 401.80 L253.60 401.88 L253.93 401.96 L254.26 402.04 L254.59 402.11 L254.92 402.19 L255.25 402.26 L255.58 402.34 L255.91 402.41 L256.25 402.48 L256.58 402.56 L256.91 402.63 L257.24 402.70 L257.57 402.77 L257.90 402.84 L258.23 402.91 L258.56 402.98 L258.89 403.04 L259.22 403.11 L259.55 403.17 L259.88 403.23 L260.21 403.28 L260.54 403.34 L260.87 403.39 L261.21 403.43 L261.54 403.48 L261.87 403.52 L262.20 403.56 L262.53 403.59 L262.86 403.62 L263.19 403.65 L263.52 403.68 L263.85 403.71 L264.18 403.74 L264.51 403.77 L264.84 403.79 L265.17 403.82 L265.50 403.85 L265.83 403.87 L266.17 403.89 L266.50 403.92 L266.83 403.94 L267.16 403.96 L267.49 403.98 L267.82 404.01 L268.15 404.03 L268.48 404.05 L268.81 404.07 L269.14 404.09 L269.47 404.10 L269.80 404.12 L270.13 404.14 L270.46 404.16 L270.79 404.18 L271.13 404.19 L271.46 404.21 L271.79 404.23 L272.12 404.24 L272.45 404.26 L272.78 404.27 L273.11 404.29 L273.44 404.30 L273.77 404.32 L274.10 404.33 L274.43 404.35 L274.76 404.36 L275.09 404.38 L275.42 404.39 L275.75 404.41 L276.09 404.42 L276.42 404.43 L276.75 404.45 L277.08 404.46 L277.41 404.48 L277.74 404.49 L278.07 404.50 L278.40 404.52 L278.73 404.53 L279.06 404.54 L279.39 404.56 L279.72 404.57 L280.05 404.59 L280.38 404.60 L280.71 404.61 L281.05 404.63 L281.38 404.64 L281.71 404.65 L282.04 404.67 L282.37 404.68 L282.70 404.69 L283.03 404.71 L283.36 404.72 L283.69 404.73 L284.02 404.74 L284.35 404.75 L284.68 404.76 L285.01 404.78 L285.34 404.79 L285.67 404.80 L286.01 404.81 L286.34 404.82 L286.67 404.83 L287.00 404.84 L287.33 404.85 L287.66 404.85 L287.99 404.86 L288.32 404.87 L288.65 404.88 L288.98 404.88 L289.31 404.89 L289.64 404.89 L289.97 404.90 L290.30 404.90 L290.63 404.91 L290.97 404.91 L291.30 404.92 L291.63 404.92 L291.96 404.93 L292.29 404.93 L292.62 404.94 L292.95 404.94 L293.28 404.95 L293.61 404.95 L293.94 404.95 L294.27 404.96 L294.60 404.96 L294.93 404.97 L295.26 404.97 L295.59 404.97 L295.93 404.98 L296.26 404.98 L296.59 404.98 L296.92 404.98 L297.25 404.99 L297.58 404.99 L297.91 404.99 L298.24 404.99 L298.57 405.00 L298.90 405.00 L299.23 405.00 L299.56 405.00 L299.89 405.00 L300.22 405.00 L300.55 405.00 L300.89 405.00 L301.22 404.99 L301.55 404.99 L301.88 404.97 L302.21 404.96 L302.54 404.95 L302.87 404.93 L303.20 404.91 L303.53 404.87 L303.86 404.81 L304.19 404.72 L304.52 404.61 L304.85 404.48 L305.18 404.30 L305.51 404.08 L305.85 403.82 L306.18 403.56 L306.51 403.28 L306.84 402.96 L307.17 402.62 L307.50 402.24 L307.83 401.83 L308.16 401.42 L308.49 401.01 L308.82 400.62 L309.15 400.22 L309.48 399.83 L309.81 399.43 L310.14 399.03 L310.47 398.64 L310.81 398.26 L311.14 397.85 L311.47 397.37 L311.80 396.81 L312.13 396.19 L312.46 395.50 L312.79 394.76 L313.12 393.98 L313.45 393.19 L313.78 392.42 L314.11 391.69 L314.44 390.99 L314.77 390.31 L315.10 389.63 L315.43 388.96 L315.77 388.28 L316.10 387.62 L316.43 386.95 L316.76 386.29 L317.09 385.62 L317.42 384.96 L317.75 384.31 L318.08 383.65 L318.41 383.00 L318.74 382.35 L319.07 381.70 L319.40 381.05 L319.73 380.40 L320.06 379.76 L320.39 379.12 L320.73 378.48 L321.06 377.84 L321.39 377.20 L321.72 376.57 L322.05 375.94 L322.38 375.31 L322.71 374.68 L323.04 374.05 L323.37 373.42 L323.70 372.78 L324.03 372.15 L324.36 371.51 L324.69 370.87 L325.02 370.23 L325.35 369.59 L325.69 368.96 L326.02 368.33 L326.35 367.72 L326.68 367.13 L327.01 366.55 L327.34 365.97 L327.67 365.39 L328.00 364.79 L328.33 364.15 L328.66 363.45 L328.99 362.77 L329.32 362.14 L329.65 361.57 L329.98 361.04 L330.31 360.53 L330.65 360.04 L330.98 359.57 L331.31 359.12 L331.64 358.68 L331.97 358.26 L332.30 357.85 L332.63 357.45 L332.96 357.06 L333.29 356.70 L333.62 356.35 L333.95 356.01 L334.28 355.68 L334.61 355.35 L334.94 355.03 L335.27 354.71 L335.61 354.39 L335.94 354.08 L336.27 353.76 L336.60 353.45 L336.93 353.14 L337.26 352.84 L337.59 352.54 L337.92 352.26 L338.25 351.99 L338.58 351.73 L338.91 351.48 L339.24 351.25 L339.57 351.03 L339.90 350.81 L340.23 350.60 L340.57 350.40 L340.90 350.20 L341.23 350.00 L341.56 349.81 L341.89 349.61 L342.22 349.41 L342.55 349.20 L342.88 349.00 L343.21 348.80 L343.54 348.60 L343.87 348.40 L344.20 348.22 L344.53 348.04 L344.86 347.87 L345.19 347.71 L345.53 347.55 L345.86 347.40 L346.19 347.26 L346.52 347.12 L346.85 346.98 L347.18 346.85 L347.51 346.72 L347.84 346.60 L348.17 346.47 L348.50 346.36 L348.83 346.24 L349.16 346.13 L349.49 346.02 L349.82 345.91 L350.15 345.81 L350.49 345.71 L350.82 345.62 L351.15 345.53 L351.48 345.44 L351.81 345.36 L352.14 345.28 L352.47 345.20 L352.80 345.13 L353.13 345.05 L353.46 344.98 L353.79 344.92 L354.12 344.85 L354.45 344.79 L354.78 344.73 L355.11 344.67 L355.45 344.61 L355.78 344.56 L356.11 344.51 L356.44 344.45 L356.77 344.40 L357.10 344.36 L357.43 344.31 L357.76 344.26 L358.09 344.22 L358.42 344.18 L358.75 344.14 L359.08 344.10 L359.41 344.06 L359.74 344.03 L360.07 343.99 L360.41 343.96 L360.74 343.93 L361.07 343.89 L361.40 343.86 L361.73 343.83 L362.06 343.80 L362.39 343.77 L362.72 343.74 L363.05 343.72 L363.38 343.69 L363.71 343.66 L364.04 343.64 L364.37 343.61 L364.70 343.59 L365.03 343.56 L365.37 343.54 L365.70 343.52 L366.03 343.50 L366.36 343.48 L366.69 343.46 L367.02 343.44 L367.35 343.42 L367.68 343.40 L368.01 343.38 L368.34 343.37 L368.67 343.35 L369.00 343.33 L369.33 343.31 L369.66 343.30 L369.99 343.28 L370.33 343.27 L370.66 343.25 L370.99 343.24 L371.32 343.22 L371.65 343.21 L371.98 343.20 L372.31 343.19 L372.64 343.18 L372.97 343.17 L373.30 343.16 L373.63 343.15 L373.96 343.14 L374.29 343.13 L374.62 343.12 L374.95 343.11 L375.29 343.10 L375.62 343.10 L375.95 343.09 L376.28 343.08 L376.61 343.07 L376.94 343.07 L377.27 343.06 L377.60 343.05 L377.93 343.05 L378.26 343.04 L378.59 343.03 L378.92 343.03 L379.25 343.02 L379.58 343.02 L379.91 343.01 L380.25 343.00 L380.58 343.00 L380.91 342.99 L381.24 342.99 L381.57 342.98 L381.90 342.98 L382.23 342.97 L382.56 342.97 L382.89 342.96 L383.22 342.96 L383.55 342.96 L383.88 342.95 L384.21 342.95 L384.54 342.94 L384.87 342.94 L385.21 342.93 L385.54 342.93 L385.87 342.93 L386.20 342.92 L386.53 342.92 L386.86 342.91 L387.19 342.91 L387.52 342.91 L387.85 342.90 L388.18 342.90 L388.51 342.90 L388.84 342.89 L389.17 342.89 L389.50 342.88 L389.83 342.88 L390.17 342.88 L390.50 342.87 L390.83 342.87 L391.16 342.87 L391.49 342.86 L391.82 342.86 L392.15 342.86 L392.48 342.86 L392.81 342.85 L393.14 342.85 L393.47 342.85 L393.80 342.84 L394.13 342.84 L394.46 342.84 L394.79 342.83 L395.13 342.83 L395.46 342.83 L395.79 342.83 L396.12 342.82 L396.45 342.82 L396.78 342.82 L397.11 342.82 L397.44 342.82 L397.77 342.81 L398.10 342.81 L398.43 342.81 L398.76 342.81 L399.09 342.80 L399.42 342.80 L399.75 342.80 L400.09 342.80 L400.42 342.80 L400.75 342.80 L401.08 342.79 L401.41 342.79 L401.74 342.79 L402.07 342.79 L402.40 342.79 L402.73 342.79 L403.06 342.78 L403.39 342.78 L403.72 342.78 L404.05 342.78 L404.38 342.78 L404.71 342.78 L405.05 342.78 L405.38 342.77 L405.71 342.77 L406.04 342.77 L406.37 342.77 L406.70 342.77 L407.03 342.77 L407.36 342.77 L407.69 342.76 L408.02 342.76 L408.35 342.76 L408.68 342.76 L409.01 342.76 L409.34 342.76 L409.67 342.76 L410.01 342.76 L410.34 342.75 L410.67 342.75 L411.00 342.75 L411.33 342.75 L411.66 342.75 L411.99 342.75 L412.32 342.75 L412.65 342.75 L412.98 342.74 L413.31 342.74 L413.64 342.74 L413.97 342.74 L414.30 342.74 L414.63 342.74 L414.97 342.74 L415.30 342.74 L415.63 342.74 L415.96 342.73 L416.29 342.73 L416.62 342.73 L416.95 342.73 L417.28 342.73 L417.61 342.73 L417.94 342.73 L418.27 342.73 L418.60 342.73 L418.93 342.73 L419.26 342.72 L419.59 342.72 L419.93 342.72 L420.26 342.72 L420.59 342.72 L420.92 342.72 L421.25 342.72 L421.58 342.72 L421.91 342.72 L422.24 342.72 L422.57 342.72 L422.90 342.72 L423.23 342.71 L423.56 342.71 L423.89 342.71 L424.22 342.71 L424.55 342.71 L424.89 342.71 L425.22 342.71 L425.55 342.71 L425.88 342.71 L426.21 342.71 L426.54 342.71 L426.87 342.71 L427.20 342.71 L427.53 342.70 L427.86 342.70 L428.19 342.70 L428.52 342.70 L428.85 342.70 L429.18 342.70 L429.51 342.70 L429.85 342.70 L430.18 342.70 L430.51 342.70 L430.84 342.70 L431.17 342.70 L431.50 342.70 L431.83 342.70 L432.16 342.70 L432.49 342.70 L432.82 342.69 L433.15 342.69 L433.48 342.69 L433.81 342.69 L434.14 342.69 L434.47 342.69 L434.81 342.69 L435.14 342.69 L435.47 342.69 L435.80 342.69 L436.13 342.69 L436.46 342.69 L436.79 342.69 L437.12 342.69 L437.45 342.69 L437.78 342.69 L438.11 342.69 L438.44 342.68 L438.77 342.68 L439.10 342.68 L439.43 342.68 L439.77 342.68 L440.10 342.68 L440.43 342.68 L440.76 342.68 L441.09 342.68 L441.42 342.68 L441.75 342.68 L442.08 342.68 L442.41 342.68 L442.74 342.68 L443.07 342.68 L443.40 342.68 L443.73 342.68 L444.06 342.67 L444.39 342.67 L444.73 342.67 L445.06 342.67 L445.39 342.67 L445.72 342.67 L446.05 342.67 L446.38 342.67 L446.71 342.67 L447.04 342.67 L447.37 342.67 L447.70 342.67 L448.03 342.67 L448.36 342.67 L448.69 342.67 L449.02 342.67 L449.35 342.67 L449.69 342.67 L450.02 342.67 L450.35 342.67 L450.68 342.66 L451.01 342.66 L451.34 342.66 L451.67 342.66 L452.00 342.66 L452.33 342.66 L452.66 342.66 L452.99 342.66 L453.32 342.66 L453.65 342.66 L453.98 342.66 L454.31 342.66 L454.65 342.66 L454.98 342.66 L455.31 342.66 L455.64 342.66 L455.97 342.66 L456.30 342.66 L456.63 342.66 L456.96 342.66 L457.29 342.66 L457.62 342.66 L457.95 342.66 L458.28 342.66 L458.61 342.66 L458.94 342.66 L459.27 342.65 L459.61 342.65 L459.94 342.65 L460.27 342.65 L460.60 342.65 L460.93 342.65 L461.26 342.65 L461.59 342.65 L461.92 342.65 L462.25 342.65 L462.58 342.65 L462.91 342.65 L463.24 342.65 L463.57 342.65 L463.90 342.65 L464.23 342.65 L464.57 342.65 L464.90 342.65 L465.23 342.65 L465.56 342.65 L465.89 342.65 L466.22 342.65 L466.55 342.65 L466.88 342.65 L467.21 342.65 L467.54 342.65 L467.87 342.65 L468.20 342.65 L468.53 342.65 L468.86 342.65 L469.19 342.65 L469.53 342.65 L469.86 342.65 L470.19 342.65 L470.52 342.65 L470.85 342.65 L471.18 342.65 L471.51 342.65 L471.84 342.65 L472.17 342.65 L472.50 342.65 L472.83 342.65 L473.16 342.65 L473.49 342.65 L473.82 342.65 L474.15 342.65 L474.49 342.65 L474.82 342.65 L475.15 342.65 L475.48 342.65 L475.81 342.65 L476.14 342.65 L476.47 342.65 L476.80 342.65 L477.13 342.65 L477.46 342.65 L477.79 342.65 L478.12 342.65 L478.45 342.65 L478.78 342.65 L479.11 342.65 L479.45 342.65 L479.78 342.65 L480.11 342.65 L480.44 342.65 L480.77 342.65 L481.10 342.65 L481.43 342.65 L481.76 342.65 L482.09 342.65 L482.42 342.65 L482.75 342.65 L483.08 342.65 L483.41 342.65 L483.74 342.65 L484.07 342.65 L484.41 342.65 L484.74 342.65 L485.07 342.65 L485.40 342.65 L485.73 342.65 L486.06 342.65 L486.39 342.65 L486.72 342.65 L487.05 342.65 L487.38 342.65 L487.71 342.65 L488.04 342.65 L488.37 342.65 L488.70 342.65 L489.03 342.65 L489.37 342.65 L489.70 342.65 L490.03 342.65 L490.36 342.65 L490.69 342.65 L491.02 342.65 L491.35 342.65 L491.68 342.65 L492.01 342.65 L492.34 342.65 L492.67 342.65 L493.00 342.65 L493.33 342.65 L493.66 342.65 L493.99 342.65 L494.33 342.65 L494.66 342.65 L494.99 342.65 L495.32 342.65 L495.65 342.65 L495.98 342.65 L496.31 342.65 L496.64 342.65 L496.97 342.65 L497.30 342.65 L497.63 342.65 L497.96 342.65 L498.29 342.65 L498.62 342.65 L498.95 342.65 L499.29 342.65 L499.62 342.65 L499.95 342.65 L500.28 342.65 L500.61 342.65 L500.94 342.65 L501.27 342.65 L501.60 342.65 L501.93 342.65 L502.26 342.65 L502.59 342.65 L502.92 342.65 L503.25 342.65 L503.58 342.65 L503.91 342.65 L504.25 342.65 L504.58 342.65 L504.91 342.65 L505.24 342.65 L505.57 342.65 L505.90 342.65 L506.23 342.65 L506.56 342.65 L506.89 342.65 L507.22 342.65 L507.55 342.65 L507.88 342.65 L508.21 342.65 L508.54 342.65 L508.87 342.65 L509.21 342.65 L509.54 342.65 L509.87 342.65 L510.20 342.65 L510.53 342.65 L510.86 342.65 L511.19 342.65 L511.52 342.65 L511.85 342.65 L512.18 342.65 L512.51 342.65 L512.84 342.65 L513.17 342.65 L513.50 342.65 L513.83 342.65 L514.17 342.65 L514.50 342.65 L514.83 342.65 L515.16 342.65 L515.49 342.65 L515.82 342.65 L516.15 342.65 L516.48 342.65 L516.81 342.65 L517.14 342.65 L517.47 342.65 L517.80 342.65 L518.13 342.65 L518.46 342.65 L518.79 342.65 L519.13 342.65 L519.46 342.65 L519.79 342.65 L520.12 342.65 L520.45 342.65 L520.78 342.65 L521.11 342.65 L521.44 342.65 L521.77 342.65 L522.10 342.65 L522.43 342.65 L522.76 342.65 L523.09 342.65 L523.42 342.65 L523.75 342.65 L524.09 342.65 L524.42 342.65 L524.75 342.65 L525.08 342.65 L525.41 342.65 L525.74 342.65 L526.07 342.65 L526.40 342.65 L526.73 342.65 L527.06 342.65 L527.39 342.65 L527.72 342.65 L528.05 342.65 L528.38 342.65 L528.71 342.65 L529.05 342.65 L529.38 342.65 L529.71 342.65 L530.04 342.65 L530.37 342.65 L530.70 342.65 L531.03 342.65 L531.36 342.65 L531.69 342.65 L532.02 342.65 L532.35 342.65 L532.68 342.65 L533.01 342.65 L533.34 342.65 L533.67 342.65 L534.01 342.65 L534.34 342.65 L534.67 342.65 L535.00 342.65 L535.33 342.65 L535.66 342.65 L535.99 342.65 L536.32 342.65 L536.65 342.65 L536.98 342.65 L537.31 342.65 L537.64 342.65 L537.97 342.65 L538.30 342.65 L538.63 342.65 L538.97 342.65 L539.30 342.65 L539.63 342.65 L539.96 342.65 L540.29 342.65 L540.62 342.65 L540.95 342.65 L541.28 342.65 L541.61 342.65 L541.94 342.65 L542.27 342.65 L542.60 342.65 L542.93 342.65 L543.26 342.65 L543.59 342.65 L543.93 342.65 L544.26 342.65 L544.59 342.65 L544.92 342.65 L545.25 342.65 L545.58 342.65 L545.91 342.65 L546.24 342.65 L546.57 342.65 L546.90 342.65 L547.23 342.65 L547.56 342.65 L547.89 342.65 L548.22 342.65 L548.55 342.65 L548.89 342.65 L549.22 342.65 L549.55 342.65 L549.88 342.65 L550.21 342.65 L550.54 342.65 L550.87 342.65 L551.20 342.65 L551.53 342.65 L551.86 342.65 L552.19 342.65 L552.52 342.65 L552.85 342.65 L553.18 342.65 L553.51 342.65 L553.85 342.65 L554.18 342.65 L554.51 342.65 L554.84 342.65 L555.17 342.65 L555.50 342.65 L555.83 342.65 L556.16 342.65 L556.49 342.65 L556.82 342.65 L557.15 342.65 L557.48 342.65 L557.81 342.65 L558.14 342.65 L558.47 342.65 L558.81 342.65 L559.14 342.65 L559.47 342.65 L559.80 342.65 L560.13 342.65 L560.46 342.65 L560.79 342.65 L561.12 342.65 L561.45 342.65 L561.78 342.65 L562.11 342.65 L562.44 342.65 L562.77 342.65 L563.10 342.65 L563.43 342.65 L563.77 342.65 L564.10 342.65 L564.43 342.65 L564.76 342.65 L565.09 342.65 L565.42 342.65 L565.75 342.65 L566.08 342.65 L566.41 342.65 L566.74 342.65 L567.07 342.65 L567.40 342.65 L567.73 342.65 L568.06 342.65 L568.39 342.65 L568.73 342.65 L569.06 342.65 L569.39 342.65 L569.72 342.65 L570.05 342.65 L570.38 342.65 L570.71 342.65 L571.04 342.65 L571.37 342.65 L571.70 342.65 L572.03 342.65 L572.36 342.65 L572.69 342.65 L573.02 342.65 L573.35 342.65 L573.69 342.65 L574.02 342.65 L574.35 342.65 L574.68 342.65 L575.01 342.65 L575.34 342.65 L575.67 342.65 L576.00 342.65"/>
</g>
<rect x="80.5" y="58.5" width="496.0" height="369.0" fill="none" stroke="#000" stroke-width="1.111" stroke-linejoin="miter"/>
<text x="106.1" y="79" font-weight="bold" style="font-kerning:none"><tspan font-style="italic" font-weight="normal">ATLAS</tspan> Upgrade</text>
<text x="105.05" y="97" font-weight="bold" xml:space="preserve"> Board260, 25ohm</text>
<text x="105.05" y="113" font-weight="bold" xml:space="preserve"> Ch013 35dB</text>
<rect x="363.4" y="65.6" width="206.20" height="61.30" rx="2.78" ry="2.78" fill="#fff" fill-opacity="0.8" stroke="#ccc" stroke-opacity="0.8" stroke-width="1.389"/>
<path d="M368.9 76.0 H395.9" stroke="#1f77b4" stroke-width="2.083" stroke-linecap="square"/>
<path d="M368.9 106.9 H395.9" stroke="#ff7f0e" stroke-width="2.083" stroke-linecap="square"/>
<text x="408.0" y="81" letter-spacing="0.02">Lo; risetime = 44.2 ns</text>
<text x="408.0" y="102" letter-spacing="0.02">Hi; risetime = 44.2 ns</text>
<text x="408.0" y="118" letter-spacing="0.05" xml:space="preserve"> Gain Ratio = 23.386</text>
</svg></body></html>
